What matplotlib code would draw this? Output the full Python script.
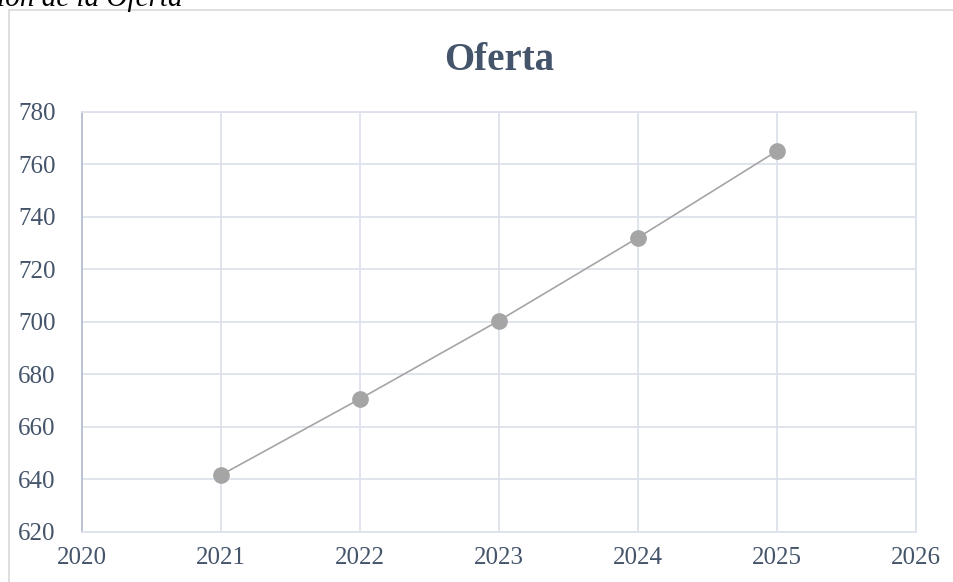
import matplotlib
matplotlib.use('Agg')
import matplotlib.pyplot as plt
from matplotlib.patches import Rectangle

matplotlib.rcParams['font.family'] = 'Liberation Serif'

# Proyección de la oferta por año
years = [2021, 2022, 2023, 2024, 2025]
oferta = [641.7, 670.7, 700.5, 732.1, 765.1]

x_ticks = [2020, 2021, 2022, 2023, 2024, 2025, 2026]
y_ticks = [620, 640, 660, 680, 700, 720, 740, 760, 780]

text_color = '#44546A'
grid_color = '#DDE2EA'
line_color = '#A5A5A5'

fig = plt.figure(figsize=(9.54, 5.82), dpi=100)
ax = fig.add_axes([0.086, 0.086, 0.874, 0.7216])

# marco del gráfico
fig.patches.append(Rectangle((9 / 954, -0.1), 1.2, 1 - 10 / 582 + 0.1,
                             transform=fig.transFigure, fill=False,
                             edgecolor='#D9D9D9', linewidth=1.2))

# leyenda de figura, recortada arriba
fig.text(183 / 954, 1 - 6 / 582, 'Proyección de la Oferta', ha='right', va='baseline',
         fontsize=21, style='italic', color='black')

ax.plot(years, oferta, color=line_color, linewidth=1.2, marker='o',
        markersize=11, markerfacecolor=line_color, markeredgecolor=line_color,
        zorder=5)

ax.set_xlim(2020, 2026)
ax.set_ylim(620, 780)
ax.set_xticks(x_ticks)
ax.set_yticks(y_ticks)
ax.set_xticklabels([str(x) for x in x_ticks])
ax.grid(True, color=grid_color, linewidth=1.3)
ax.set_axisbelow(True)

for side in ['top', 'right', 'bottom']:
    ax.spines[side].set_color(grid_color)
    ax.spines[side].set_linewidth(1.3)
ax.spines['left'].set_color('#B4BFCF')
ax.spines['left'].set_linewidth(1.3)

ax.tick_params(axis='both', length=0, labelsize=18, labelcolor=text_color)
ax.tick_params(axis='y', pad=19)
ax.tick_params(axis='x', pad=11)

ax.set_title('Oferta', fontsize=28, fontweight='bold', color=text_color, pad=30)

fig.savefig('out.png', dpi=100)
